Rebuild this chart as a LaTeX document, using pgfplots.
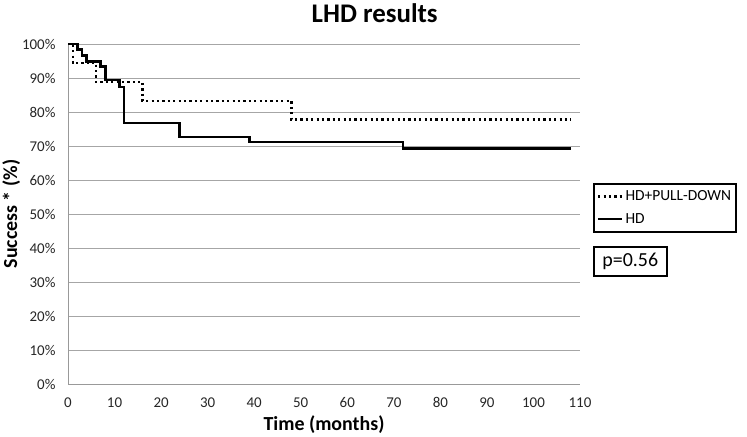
\documentclass[border=0pt]{standalone}
\usepackage{pgfplots}
\pgfplotsset{compat=1.18}
\usepackage{fontspec}
\setmainfont{Carlito}
\begin{document}
\begin{tikzpicture}[x=1bp,y=1bp]
\useasboundingbox (0,0) rectangle (747,437);
\begin{axis}[
  at={(68bp,53bp)}, anchor=origin,
  scale only axis, width=512bp, height=340bp,
  xmin=0, xmax=110, ymin=0, ymax=100,
  axis x line=bottom, axis y line=left,
  axis line style={draw=gray!80, line width=0.8pt, -},
  xtick={0,10,...,110}, ytick={0,10,...,100},
  ymajorgrids, grid style={gray!70, line width=0.8pt},
  major tick length=0pt,
  /pgf/number format/assume math mode=true,
  yticklabel={\pgfmathprintnumber{\tick}\%},
  tick label style={font=\fontsize{15}{17}\selectfont, color=black!85},
  xticklabel style={yshift=-10bp},
  yticklabel style={xshift=-9bp},
  xlabel={\textbf{Time (months)}},
  ylabel={\textbf{Success * (\%)}},
  label style={font=\fontsize{20}{22}\selectfont},
  xlabel style={yshift=-1bp},
  ylabel style={yshift=-5bp},
  title={\textbf{LHD results}},
  title style={font=\fontsize{27}{30}\selectfont, at={(0.599,1)}, yshift=12bp},
  legend style={at={(1.0254,0.591)}, anchor=north west, draw=black, line width=1.6pt,
    font=\fontsize{15.5}{17}\selectfont, inner xsep=3bp, inner ysep=5bp, row sep=7bp,
    legend cell align=left},
  legend image code/.code={\draw[#1] (0cm,0cm) -- (0.85cm,0cm);},
]
\addplot[const plot, black, line width=2.2bp, dash pattern=on 2.2bp off 3.2bp] coordinates {
(0,100) (1,94.4) (6,88.9) (16,83.3) (48,77.8) (108,77.8)};
\addlegendentry{HD+PULL-DOWN}
\addplot[const plot, black, line width=2.6bp, legend image post style={line width=2.6bp, solid}] coordinates {
(0,100) (2,98.3) (3,96.6) (4,94.8) (7,93.4) (8,89.4) (11,87.4) (12,76.8) (24,72.6) (39,71.2) (72,69.2) (108,69.2)};
\addlegendentry{HD}
\end{axis}
\node[draw=black, line width=1.6pt, anchor=north west, inner sep=3bp, minimum width=73bp, minimum height=29bp, font=\fontsize{20}{22}\selectfont] at (593,191) {p=0.56};
\end{tikzpicture}
\end{document}
